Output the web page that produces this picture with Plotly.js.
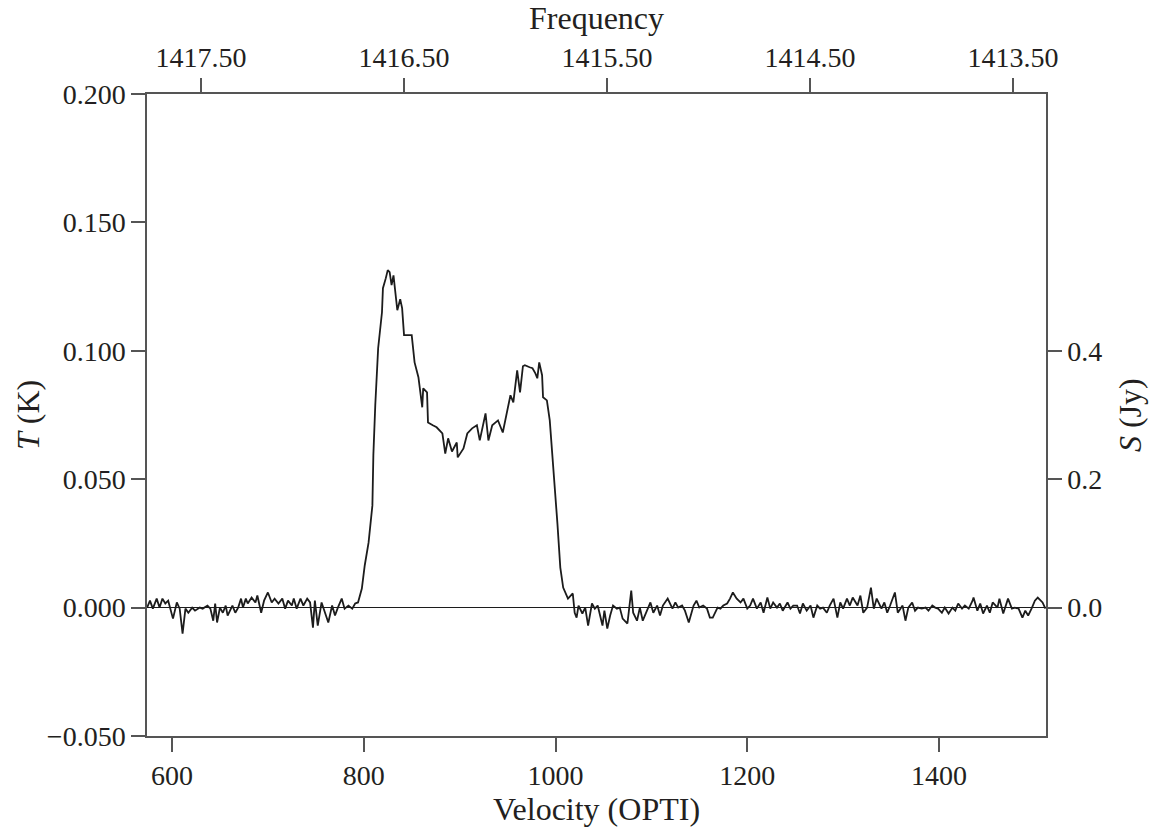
<!DOCTYPE html>
<html>
<head>
<meta charset="utf-8">
<script src="https://cdn.plot.ly/plotly-3.0.1.min.js"></script>
<style>
html,body{margin:0;padding:0;background:#fff;}
#chart{width:1160px;height:834px;}
</style>
</head>
<body>
<div id="chart"></div>
<script>
// Velocity (km/s, optical convention) of each spectrum channel
const velocity = [
 574,577,580,584,587,590,593,596,601,605,608,611,614,617,621,624,629,632,637,640,
 643,645,647,650,653,656,658,663,666,669,672,674,677,679,683,687,689,693,696,700,
 704,707,711,715,718,721,725,727,730,734,737,741,744,747,749,752,756,760,763,767,
 770,773,777,780,784,788,791,794,
 798,801,805,809,810,812,815,819,820,823,825,827,829,831,835,838,840,842,850,853,
 857,861,862,866,867,872,876,882,885,888,892,897,898,904,908,913,918,921,927,930,
 934,940,945,953,956,960,963,966,968,973,976,979,981,983,986,987,991,994,997,1000,
 1002,1005,1008,1013,1018,1020,1022,1024,
 1028,1031,1034,1038,1041,1044,1049,1051,1054,1057,1060,1064,1067,1070,1075,1079,1081,1085,1088,1091,
 1096,1099,1102,1106,1109,1112,1117,1122,1125,1128,1132,1135,1139,1144,1147,1150,1154,1158,1161,1164,
 1169,1172,1175,1179,1182,1185,1189,1193,1196,1200,1203,1206,1210,1214,1217,1221,1224,1227,1231,1234,
 1237,1242,1245,
 1248,1252,1255,1258,1262,1266,1269,1273,1276,1279,1283,1286,1290,1294,1297,1300,1304,1307,1310,1315,
 1318,1321,1325,1329,1332,1335,1340,1343,1346,1349,1352,1354,1357,1362,1365,1368,1372,1375,1378,1382,
 1386,1389,1393,1396,1399,1403,1406,1410,1414,1417,1420,1424,1427,1431,1435,1436,1440,1443,1446,1450,
 1453,1456,1461,1463,1467,1470,1472,1476,1479,1483,1487,1490,1493,1497,1500,1503,1508,1511
];
// Antenna temperature T (K) for each channel
const temperature = [
 0,0.0027,-0.0004,0.0035,0,0.0035,0.0016,0.0027,-0.0043,0.0020,-0.0004,-0.0101,-0.0004,-0.0020,0,-0.0012,0,-0.0004,0.0008,-0.0004,
 -0.0051,0.0016,-0.0058,0,-0.0020,0.0008,-0.0031,0.0008,-0.0020,0,0.0035,0,0.0035,0.0016,0.0039,0.0020,0.0047,-0.0020,0.0027,0.0059,
 0.0020,0.0035,0.0016,0.0035,-0.0004,0.0027,0.0008,0.0035,-0.0004,0.0035,0.0008,0.0035,0.0020,-0.0078,0.0027,-0.0070,0.0020,-0.0020,-0.0058,0.0008,
 -0.0031,0,0.0035,-0.0004,0.0008,-0.0004,0.0016,0.0020,
 0.0074,0.0164,0.0253,0.0398,0.0593,0.0788,0.1010,0.1150,0.1244,0.1283,0.1314,0.1306,0.1256,0.1294,0.1158,0.1201,0.1166,0.1061,0.1061,0.0955,
 0.0897,0.0780,0.0854,0.0838,0.0721,0.0710,0.0702,0.0678,0.0600,0.0659,0.0608,0.0643,0.0585,0.0620,0.0678,0.0698,0.0710,0.0651,0.0756,0.0651,
 0.0710,0.0729,0.0682,0.0827,0.0799,0.0924,0.0838,0.0940,0.0944,0.0936,0.0932,0.0912,0.0893,0.0955,0.0905,0.0819,0.0807,0.0729,0.0585,0.0456,
 0.0327,0.0156,0.0078,0.0035,0.0055,-0.0020,-0.0039,0.0008,
 -0.0023,0,-0.0070,0.0016,-0.0004,0.0008,-0.0070,-0.0012,-0.0082,-0.0031,0.0008,-0.0004,0,-0.0043,-0.0062,0.0066,-0.0020,-0.0051,0,-0.0051,
 -0.0004,0.0020,-0.0020,0.0008,-0.0031,0.0008,0.0035,-0.0004,0.0020,0,0.0008,-0.0012,-0.0058,0.0008,0.0027,0,0.0008,-0.0004,-0.0039,-0.0039,
 0,-0.0004,0.0008,0.0016,0.0035,0.0059,0.0035,0.0020,0.0035,-0.0004,0.0008,0.0035,-0.0004,0.0020,-0.0020,0.0039,-0.0004,0.0020,0,0.0016,
 -0.0012,0.0020,-0.0004,
 0.0008,0.0008,-0.0023,0.0016,-0.0012,0.0008,-0.0039,0.0008,-0.0004,0,-0.0020,0.0008,0.0035,-0.0039,0.0020,-0.0004,0.0035,0.0008,0.0039,0.0008,
 0.0047,-0.0020,0,0.0078,-0.0004,0.0035,-0.0004,0.0020,-0.0020,0.0008,0.0035,0.0059,-0.0020,0.0008,-0.0051,0,0.0020,-0.0012,0,-0.0004,
 0,-0.0012,0.0008,0,-0.0004,-0.0020,0,-0.0023,0,-0.0012,0.0016,-0.0004,0.0008,-0.0004,0.0027,0.0039,-0.0012,0.0016,-0.0023,0.0008,
 -0.0020,0.0020,0,0.0035,-0.0023,0.0008,0.0035,-0.0004,0,-0.0004,-0.0039,-0.0012,-0.0031,0,0.0027,0.0039,0.0020,-0.0004
];
// Axis ticks
const velocityTicks = [600, 800, 1000, 1200, 1400];
const frequencyTicks = [1417.5, 1416.5, 1415.5, 1414.5, 1413.5];
const frequencyLabels = ["1417.50", "1416.50", "1415.50", "1414.50", "1413.50"];
const tempTicks = [-0.05, 0, 0.05, 0.1, 0.15, 0.2];
const tempLabels = ["\u22120.050", "0.000", "0.050", "0.100", "0.150", "0.200"];
const fluxTicks = [0, 0.2, 0.4];
const fluxLabels = ["0.0", "0.2", "0.4"];

const axisColor = "#555";
const textColor = "#231f20";
const fontFamily = "'Liberation Serif', 'DejaVu Serif', serif";

const traces = [
  {
    x: velocity, y: temperature, type: "scatter", mode: "lines",
    line: {color: "#1c1c1c", width: 1.8}, xaxis: "x", yaxis: "y",
    showlegend: false, hoverinfo: "x+y"
  },
  { // carrier for the top frequency axis
    x: frequencyTicks, y: frequencyTicks.map(() => null), type: "scatter", mode: "lines",
    xaxis: "x2", yaxis: "y", showlegend: false, hoverinfo: "skip", opacity: 0
  },
  { // carrier for the right flux axis
    x: velocity.slice(0, 3), y: fluxTicks.map(() => null), type: "scatter", mode: "lines",
    xaxis: "x", yaxis: "y2", showlegend: false, hoverinfo: "skip", opacity: 0
  }
];

const tickFont = {family: fontFamily, size: 28, color: textColor};
const titleFont = {family: fontFamily, size: 32, color: textColor};

const layout = {
  width: 1160, height: 834,
  margin: {l: 147, r: 114, t: 94, b: 98},
  paper_bgcolor: "#fff", plot_bgcolor: "#fff",
  font: {family: fontFamily, color: textColor},
  showlegend: false,
  xaxis: {
    range: [573.9, 1511.6], tickvals: velocityTicks,
    ticks: "outside", ticklen: 14, tickwidth: 1.5, tickcolor: axisColor,
    showline: true, linecolor: axisColor, linewidth: 1.5,
    showgrid: false, zeroline: false, tickfont: tickFont,
    title: {text: "Velocity (OPTI)", font: titleFont, standoff: 4},
    automargin: false
  },
  xaxis2: {
    overlaying: "x", side: "top", anchor: "y",
    range: [1417.766, 1413.337], tickvals: frequencyTicks, ticktext: frequencyLabels,
    ticks: "outside", ticklen: 14, tickwidth: 1.5, tickcolor: axisColor,
    showline: true, linecolor: axisColor, linewidth: 1.5,
    showgrid: false, zeroline: false, tickfont: tickFont,
    title: {text: "Frequency", font: titleFont, standoff: 4},
    automargin: false
  },
  yaxis: {
    range: [-0.05, 0.2], tickvals: tempTicks, ticktext: tempLabels,
    ticks: "outside", ticklen: 14, tickwidth: 1.5, tickcolor: axisColor,
    showline: true, linecolor: axisColor, linewidth: 1.5,
    showgrid: false, zeroline: true, zerolinecolor: "#1c1c1c", zerolinewidth: 1.2,
    tickfont: tickFont,
    automargin: false
  },
  yaxis2: {
    overlaying: "y", side: "right", anchor: "x",
    range: [-0.2, 0.8], tickvals: fluxTicks, ticktext: fluxLabels,
    ticks: "outside", ticklen: 14, tickwidth: 1.5, tickcolor: axisColor,
    showline: true, linecolor: axisColor, linewidth: 1.5,
    showgrid: false, zeroline: false, tickfont: tickFont,
    automargin: false
  },
  annotations: [
    { // left axis title
      text: "<i>T</i> (K)", xref: "paper", yref: "paper",
      x: -0.1324, y: 0.5, xanchor: "center", yanchor: "middle",
      textangle: -90, showarrow: false, font: titleFont
    },
    { // right axis title
      text: "<i>S</i> (Jy)", xref: "paper", yref: "paper",
      x: 1.0935, y: 0.5, xanchor: "center", yanchor: "middle",
      textangle: -90, showarrow: false, font: titleFont
    }
  ]
};

Plotly.newPlot("chart", traces, layout, {displayModeBar: false});
</script>
</body>
</html>
